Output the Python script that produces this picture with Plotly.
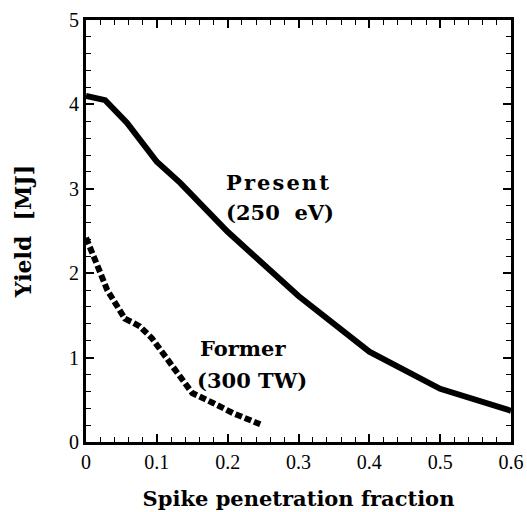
import plotly.graph_objects as go

present_x = [0.0, 0.027, 0.058, 0.1, 0.133, 0.2, 0.3, 0.4, 0.5, 0.6]
present_y = [4.10, 4.05, 3.78, 3.32, 3.07, 2.49, 1.73, 1.07, 0.63, 0.37]

former_x = [0.0, 0.01, 0.02, 0.03, 0.044, 0.055, 0.065, 0.076, 0.093, 0.123, 0.15, 0.18, 0.208, 0.246]
former_y = [2.42, 2.19, 2.01, 1.80, 1.60, 1.46, 1.42, 1.37, 1.23, 0.89, 0.58, 0.46, 0.34, 0.21]

x_ticks = [0, 0.1, 0.2, 0.3, 0.4, 0.5, 0.6]
x_labels = ["0", "0.1", "0.2", "0.3", "0.4", "0.5", "0.6"]
y_ticks = [0, 1, 2, 3, 4, 5]

fig = go.Figure()
fig.add_trace(go.Scatter(x=present_x, y=present_y, mode="lines",
                         line=dict(color="black", width=6), showlegend=False))
fig.add_trace(go.Scatter(x=former_x, y=former_y, mode="lines",
                         line=dict(color="black", width=6, dash="7px,3px"), showlegend=False))

serif = "DejaVu Serif"
tickserif = "Liberation Serif"
afont = dict(family=serif, size=21, color="black")
fig.add_annotation(x=0.271, y=3.08, text="<b>P\u200ar\u200ae\u200as\u200ae\u200an\u200at</b>", showarrow=False, font=afont)
fig.add_annotation(x=0.274, y=2.72, text="<b>(250  eV)</b>", showarrow=False, font=afont)
fig.add_annotation(x=0.222, y=1.11, text="<b>Former</b>", showarrow=False, font=afont)
fig.add_annotation(x=0.234, y=0.73, text="<b>(300 TW)</b>", showarrow=False, font=afont)

fig.update_xaxes(range=[0, 0.6], tickvals=x_ticks, ticktext=x_labels, automargin=False,
                 ticks="inside", ticklen=8, tickwidth=1.5, tickcolor="black",
                 showline=True, linewidth=3, linecolor="black", mirror="ticks",
                 showgrid=False, zeroline=False,
                 minor=dict(dtick=0.02, ticks="inside", ticklen=5, tickwidth=1, tickcolor="black", showgrid=False),
                 tickfont=dict(family=tickserif, size=20, color="black"),
                 title=dict(text="<b>Spike penetration fraction</b>",
                            font=dict(family=serif, size=21, color="black"), standoff=20))
fig.update_yaxes(range=[0, 5], tickvals=y_ticks, automargin=False,
                 ticks="inside", ticklen=8, tickwidth=1.5, tickcolor="black",
                 showline=True, linewidth=3, linecolor="black", mirror="ticks",
                 showgrid=False, zeroline=False,
                 minor=dict(dtick=0.2, ticks="inside", ticklen=5, tickwidth=1, tickcolor="black", showgrid=False),
                 tickfont=dict(family=tickserif, size=20, color="black"),
                 title=dict(text="<b>Yield  [MJ]</b>",
                            font=dict(family=serif, size=22, color="black"), standoff=32))

fig.update_layout(width=527, height=512, margin=dict(l=86, r=16, t=20, b=70),
                  plot_bgcolor="white", paper_bgcolor="white")
fig.write_html("out.html")
